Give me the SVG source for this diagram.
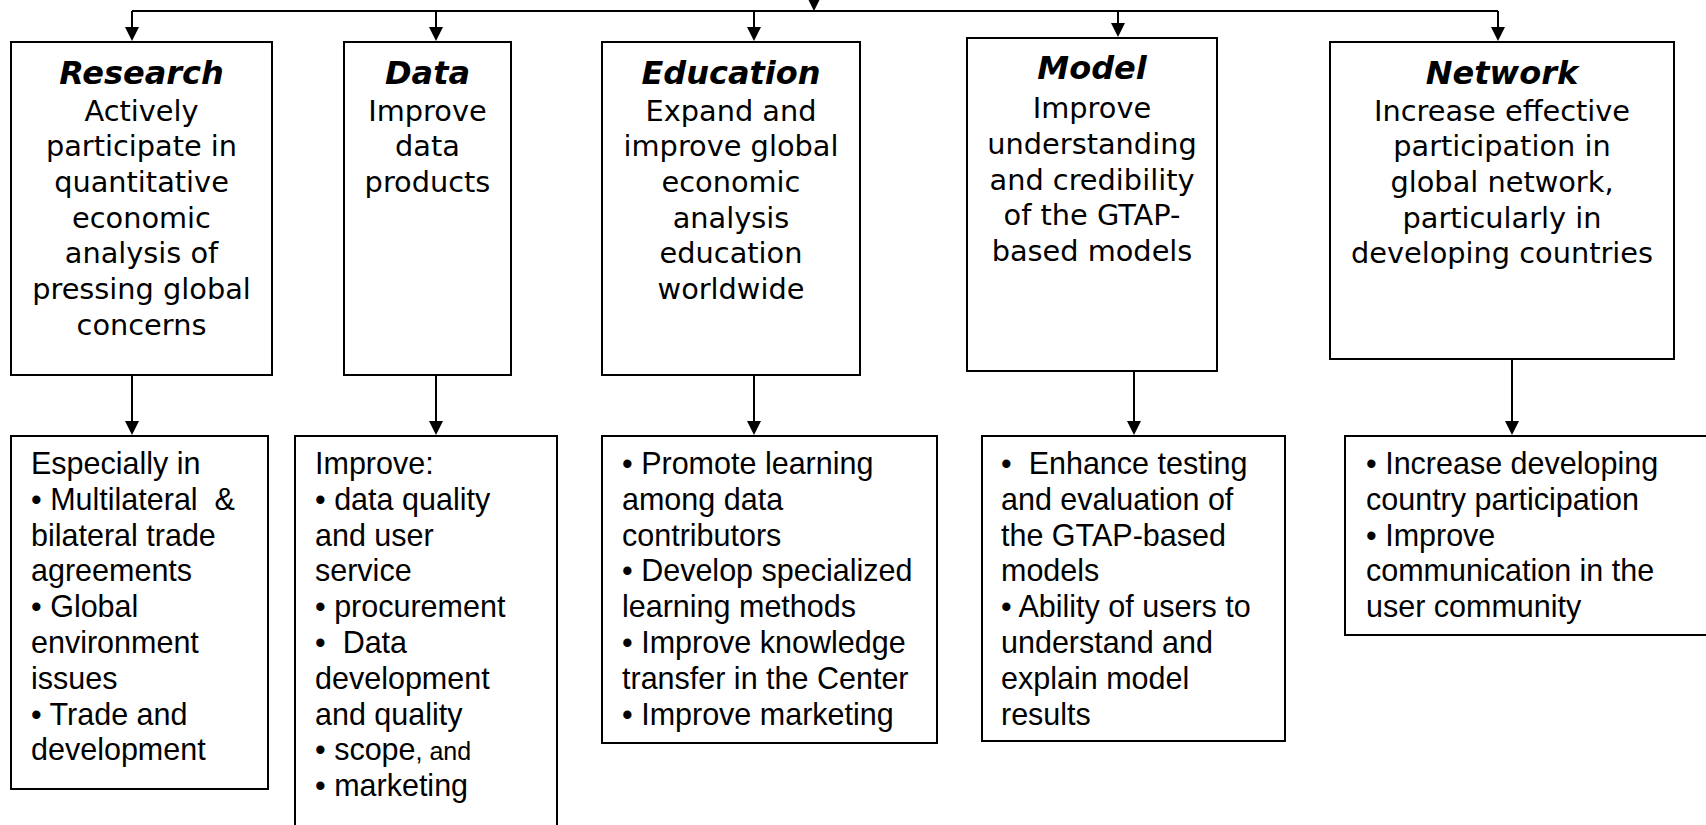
<svg xmlns="http://www.w3.org/2000/svg" width="1706" height="825" viewBox="0 0 1706 825">
<style>
.box{fill:#fff;stroke:#000;stroke-width:2}
.ttl{font-family:"DejaVu Sans",Verdana,sans-serif;font-size:32px;font-weight:bold;font-style:italic;text-anchor:middle;fill:#000}
.bd{font-family:"DejaVu Sans",Verdana,sans-serif;font-size:28.8px;text-anchor:middle;fill:#000}
.lst{font-family:"Liberation Sans",Arial,sans-serif;font-size:30.5px;fill:#000}
.con{fill:none;stroke:#000;stroke-width:2}
</style>
<defs>
<marker id="ah" markerUnits="userSpaceOnUse" markerWidth="14" markerHeight="14" refX="8" refY="7" orient="auto">
<path d="M0,0 L14,7 L0,14 z" fill="#000"/>
</marker>
</defs>
<rect width="1706" height="825" fill="#fff"/>
<g id="connectors">
<path class="con" d="M132 11 H1498"/>
<path class="con" d="M814 -30 V5" marker-end="url(#ah)"/>
<path class="con" d="M132 11 V35" marker-end="url(#ah)"/>
<path class="con" d="M436 11 V35" marker-end="url(#ah)"/>
<path class="con" d="M754 11 V35" marker-end="url(#ah)"/>
<path class="con" d="M1118 11 V31" marker-end="url(#ah)"/>
<path class="con" d="M1498 11 V35" marker-end="url(#ah)"/>
<path class="con" d="M132 375 V429" marker-end="url(#ah)"/>
<path class="con" d="M436 375 V429" marker-end="url(#ah)"/>
<path class="con" d="M754 375 V429" marker-end="url(#ah)"/>
<path class="con" d="M1134 371 V429" marker-end="url(#ah)"/>
<path class="con" d="M1512 359 V429" marker-end="url(#ah)"/>
</g>
<g id="research">
<rect class="box" x="11" y="42" width="261" height="333"/>
<text class="ttl" x="141.5" y="84">Research</text>
<text class="bd" x="141.5" y="120.5">Actively</text>
<text class="bd" x="141.5" y="156.2">participate in</text>
<text class="bd" x="141.5" y="191.9">quantitative</text>
<text class="bd" x="141.5" y="227.6">economic</text>
<text class="bd" x="141.5" y="263.3">analysis of</text>
<text class="bd" x="141.5" y="299">pressing global</text>
<text class="bd" x="141.5" y="334.7">concerns</text>
</g>
<g id="data">
<rect class="box" x="344" y="42" width="167" height="333"/>
<text class="ttl" x="427.5" y="84">Data</text>
<text class="bd" x="427.5" y="120.5">Improve</text>
<text class="bd" x="427.5" y="156.2">data</text>
<text class="bd" x="427.5" y="191.9">products</text>
</g>
<g id="education">
<rect class="box" x="602" y="42" width="258" height="333"/>
<text class="ttl" x="731" y="84">Education</text>
<text class="bd" x="731" y="120.5">Expand and</text>
<text class="bd" x="731" y="156.2">improve global</text>
<text class="bd" x="731" y="191.9">economic</text>
<text class="bd" x="731" y="227.6">analysis</text>
<text class="bd" x="731" y="263.3">education</text>
<text class="bd" x="731" y="299">worldwide</text>
</g>
<g id="model">
<rect class="box" x="967" y="38" width="250" height="333"/>
<text class="ttl" x="1092" y="78.6">Model</text>
<text class="bd" x="1092" y="118.3">Improve</text>
<text class="bd" x="1092" y="154">understanding</text>
<text class="bd" x="1092" y="189.7">and credibility</text>
<text class="bd" x="1092" y="225.4">of the GTAP-</text>
<text class="bd" x="1092" y="261.1">based models</text>
</g>
<g id="network">
<rect class="box" x="1330" y="42" width="344" height="317"/>
<text class="ttl" x="1502" y="84">Network</text>
<text class="bd" x="1502" y="120.5">Increase effective</text>
<text class="bd" x="1502" y="156.2">participation in</text>
<text class="bd" x="1502" y="191.9">global network,</text>
<text class="bd" x="1502" y="227.6">particularly in</text>
<text class="bd" x="1502" y="263.3">developing countries</text>
</g>
<g id="research-detail">
<rect class="box" x="11" y="436" width="257" height="353"/>
<text class="lst" x="31" y="474" xml:space="preserve">Especially in</text>
<text class="lst" x="31" y="509.8" xml:space="preserve">• Multilateral  &amp;</text>
<text class="lst" x="31" y="545.6">bilateral trade</text>
<text class="lst" x="31" y="581.4">agreements</text>
<text class="lst" x="31" y="617.2">• Global</text>
<text class="lst" x="31" y="653">environment</text>
<text class="lst" x="31" y="688.8">issues</text>
<text class="lst" x="31" y="724.6">• Trade and</text>
<text class="lst" x="31" y="760.4">development</text>
</g>
<g id="data-detail">
<rect class="box" x="295" y="436" width="262" height="420"/>
<text class="lst" x="315" y="474">Improve:</text>
<text class="lst" x="315" y="509.8">• data quality</text>
<text class="lst" x="315" y="545.6">and user</text>
<text class="lst" x="315" y="581.4">service</text>
<text class="lst" x="315" y="617.2">• procurement</text>
<text class="lst" x="315" y="653" xml:space="preserve">•  Data</text>
<text class="lst" x="315" y="688.8">development</text>
<text class="lst" x="315" y="724.6">and quality</text>
<text class="lst" x="315" y="760.4">• scope<tspan font-size="25">, and</tspan></text>
<text class="lst" x="315" y="796.2">• marketing</text>
</g>
<g id="education-detail">
<rect class="box" x="602" y="436" width="335" height="307"/>
<text class="lst" x="622" y="474">• Promote learning</text>
<text class="lst" x="622" y="509.8">among data</text>
<text class="lst" x="622" y="545.6">contributors</text>
<text class="lst" x="622" y="581.4">• Develop specialized</text>
<text class="lst" x="622" y="617.2">learning methods</text>
<text class="lst" x="622" y="653">• Improve knowledge</text>
<text class="lst" x="622" y="688.8">transfer in the Center</text>
<text class="lst" x="622" y="724.6">• Improve marketing</text>
</g>
<g id="model-detail">
<rect class="box" x="982" y="436" width="303" height="305"/>
<text class="lst" x="1001" y="474" xml:space="preserve">•  Enhance testing</text>
<text class="lst" x="1001" y="509.8">and evaluation of</text>
<text class="lst" x="1001" y="545.6">the GTAP-based</text>
<text class="lst" x="1001" y="581.4">models</text>
<text class="lst" x="1001" y="617.2">• Ability of users to</text>
<text class="lst" x="1001" y="653">understand and</text>
<text class="lst" x="1001" y="688.8">explain model</text>
<text class="lst" x="1001" y="724.6">results</text>
</g>
<g id="network-detail">
<rect class="box" x="1345" y="436" width="400" height="199"/>
<text class="lst" x="1366" y="474">• Increase developing</text>
<text class="lst" x="1366" y="509.8">country participation</text>
<text class="lst" x="1366" y="545.6">• Improve</text>
<text class="lst" x="1366" y="581.4">communication in the</text>
<text class="lst" x="1366" y="617.2">user community</text>
</g>
</svg>
